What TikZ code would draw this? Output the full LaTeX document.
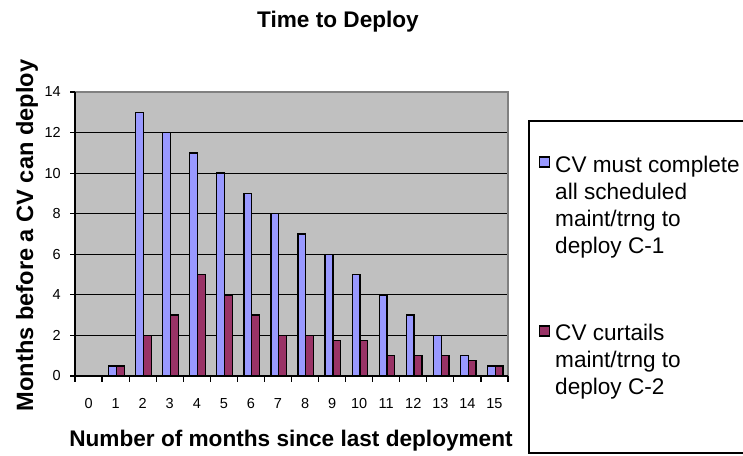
\documentclass[tikz,border=0pt]{standalone}
\usepackage{fontspec}
\setmainfont{Liberation Sans}
\definecolor{barblue}{HTML}{9999FF}
\definecolor{barred}{HTML}{993366}
\definecolor{plotgray}{HTML}{C0C0C0}
\definecolor{bordergray}{HTML}{808080}
\begin{document}
\begin{tikzpicture}[x=1pt,y=-1pt,
  ttl/.style={font=\fontsize{22.6}{27}\selectfont\bfseries, inner sep=0},
  ticklab/.style={font=\fontsize{14.5}{17}\selectfont, inner sep=0},
  legtxt/.style={font=\fontsize{22.6}{27}\selectfont, inner sep=0, anchor=base west},
  barbox/.style={draw=black, line width=1.3pt},
  axisline/.style={draw=black, line width=1.5pt},
]
\clip (0,0) rectangle (743,455);
\fill[white] (0,0) rectangle (743,455);
% plot area
\fill[plotgray] (75,92) rectangle (508,376);
\foreach \v in {2,4,...,12} \draw[line width=1pt] (75,{376-\v*20.2857}) -- (508,{376-\v*20.2857});
\draw[bordergray, line width=1.3pt] (75,92) -- (508,92) -- (508,376);
% bars
\foreach \i/\b/\r in {1/0.5/0.5, 2/13/2, 3/12/3, 4/11/5, 5/10/4, 6/9/3, 7/8/2, 8/7/2, 9/6/1.75, 10/5/1.75, 11/4/1, 12/3/1, 13/2/1, 14/1/0.75, 15/0.5/0.5} {
  \pgfmathsetmacro\c{75+(\i+0.5)*27.0625+0.8}
  \draw[barbox, fill=barblue] ({\c-7.8},376) rectangle (\c,{376-\b*20.2857});
  \draw[barbox, fill=barred] (\c,376) rectangle ({\c+7.8},{376-\r*20.2857});
}
% axes
\draw[axisline] (75,92) -- (75,376) -- (508,376);
\foreach \v in {0,2,...,14} {
  \draw[line width=1.2pt] (70,{376-\v*20.2857}) -- (75,{376-\v*20.2857});
  \node[ticklab, anchor=east] (yl\v) at (61,{376-\v*20.2857}) {\v};
}
\foreach \k in {0,...,16} \draw[line width=1.2pt] ({75+\k*27.0625},376) -- ({75+\k*27.0625},381.5);
\foreach \i in {0,...,15} \node[ticklab, anchor=base] (xl\i) at ({75+(\i+0.5)*27.0625},408) {\i};
% titles
\node[ttl, anchor=base] (title) at (338,27) {Time to Deploy};
\node[ttl, anchor=base] (xtitle) at (291,446) {Number of months since last deployment};
\node[ttl, anchor=base, rotate=90, font=\fontsize{23.6}{28}\selectfont\bfseries] (ytitle) at (33,235.5) {Months before a CV can deploy};
% legend
\draw[line width=1.5pt] (529,121) rectangle (760,453);
\draw[line width=1.2pt, fill=barblue] (539.5,157) rectangle (549.5,167);
\node[legtxt] (la1) at (555,172) {CV must complete};
\node[legtxt] (la2) at (555,199) {all scheduled};
\node[legtxt] (la3) at (555,226) {maint/trng to};
\node[legtxt] (la4) at (555,253) {deploy C-1};
\draw[line width=1.2pt, fill=barred] (539.5,326) rectangle (549.5,336);
\node[legtxt] (lb1) at (555,340) {CV curtails};
\node[legtxt] (lb2) at (555,367) {maint/trng to};
\node[legtxt] (lb3) at (555,394) {deploy C-2};
\end{tikzpicture}
\end{document}
